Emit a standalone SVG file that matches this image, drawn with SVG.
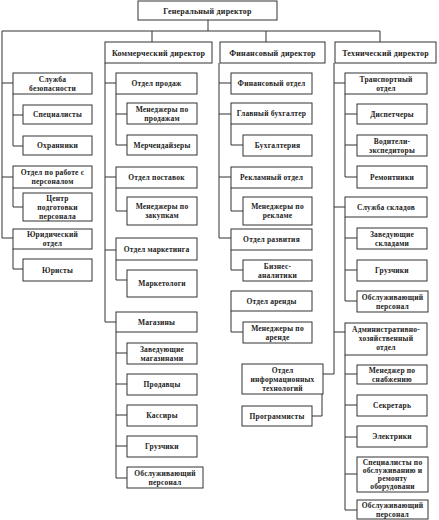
<svg xmlns="http://www.w3.org/2000/svg" width="439" height="520" viewBox="0 0 439 520">
<style>
rect{fill:#fff;stroke:#333;stroke-width:1}
text{font-family:"Liberation Serif","DejaVu Serif",serif;font-weight:bold;font-size:7.5px;fill:#222;text-anchor:middle;letter-spacing:0.2px}
.d{font-size:8px}
#conn path{fill:none;stroke:#333;stroke-width:1}
</style>
<rect x="0" y="0" width="439" height="520" style="fill:#fff;stroke:none"/>
<g id="conn">
<path d="M208 20V31M2 31H380M152 31V42M266 31V42M380 31V42"/>
<path d="M2 31V238M2 83H13M2 177H13M2 238H13M13 94V146M13 115H23M13 146H23M13 188V207H23M13 249V269H23"/>
<path d="M105 63V322M105 83H116M105 177H116M105 250H116M105 322H116M116 94V145M116 114H127M116 145H127M116 188V211H127M116 260V280H127M116 332V478M116 353H127M116 384H127M116 415H127M116 446H127M116 478H127"/>
<path d="M219 63V238M219 83H231M219 114H231M219 177H231M219 238H231M231 124V145H243M231 188V211H243M231 250V270H243M231 311V332H243"/>
<path d="M334 63V374H323M322 394V416H312M334 83H345M334 207H345M334 332H345M345 94V177M345 114H357M345 145H357M345 177H357M345 217V301M345 238H357M345 270H357M345 301H357M345 355V510M345 374H357M345 405H357M345 437H357M345 474H357M345 510H357"/>
</g>
<g id="gd"><rect x="138" y="1" width="139" height="19"/><text class="d" x="207.5" y="13.5">Генеральный директор</text></g>
<g id="cd"><rect x="105" y="42" width="107" height="21"/><text class="d" x="158.5" y="55.5">Коммерческий директор</text></g>
<g id="fd"><rect x="220" y="42" width="105" height="21"/><text class="d" x="272.5" y="55.5">Финансовый директор</text></g>
<g id="td"><rect x="335" y="42" width="101" height="21"/><text class="d" x="385.5" y="55.5">Технический директор</text></g>

<g id="sec"><rect x="13" y="73" width="79" height="21"/><text x="52.5" y="81.5">Служба</text><text x="52.5" y="90.5">безопасности</text></g>
<g id="spec"><rect x="23" y="105" width="69" height="19"/><text x="57.5" y="117">Специалисты</text></g>
<g id="guard"><rect x="23" y="136" width="69" height="19"/><text x="57.5" y="148">Охранники</text></g>
<g id="hr"><rect x="13" y="166" width="79" height="22"/><text x="52.5" y="175">Отдел по работе с</text><text x="52.5" y="184">персоналом</text></g>
<g id="trc"><rect x="23" y="193" width="69" height="28"/><text x="57.5" y="200.5">Центр</text><text x="57.5" y="209.5">подготовки</text><text x="57.5" y="218.5">персонала</text></g>
<g id="legal"><rect x="13" y="229" width="79" height="20"/><text x="52.5" y="237">Юридический</text><text x="52.5" y="246">отдел</text></g>
<g id="lawyers"><rect x="23" y="259" width="69" height="22"/><text x="57.5" y="272.5">Юристы</text></g>

<g id="sales"><rect x="116" y="73" width="81" height="21"/><text x="156.5" y="86">Отдел продаж</text></g>
<g id="salesmgr"><rect x="127" y="103" width="70" height="21"/><text x="162" y="111.5">Менеджеры по</text><text x="162" y="120.5">продажам</text></g>
<g id="merch"><rect x="127" y="135" width="70" height="20"/><text x="162" y="147.5">Мерчендайзеры</text></g>
<g id="supply"><rect x="116" y="167" width="81" height="21"/><text x="156.5" y="180">Отдел поставок</text></g>
<g id="purch"><rect x="127" y="197" width="70" height="28"/><text x="162" y="209">Менеджеры по</text><text x="162" y="218">закупкам</text></g>
<g id="mkt"><rect x="116" y="238" width="81" height="22"/><text x="156.5" y="251.5">Отдел маркетинга</text></g>
<g id="mktrs"><rect x="127" y="270" width="70" height="27"/><text x="162" y="286">Маркетологи</text></g>
<g id="shops"><rect x="116" y="312" width="81" height="20"/><text x="156.5" y="324.5">Магазины</text></g>
<g id="shopmgr"><rect x="127" y="343" width="70" height="21"/><text x="162" y="351.5">Заведующие</text><text x="162" y="360.5">магазинами</text></g>
<g id="sellers"><rect x="127" y="374" width="70" height="21"/><text x="162" y="387">Продавцы</text></g>
<g id="cashiers"><rect x="127" y="405" width="70" height="21"/><text x="162" y="418">Кассиры</text></g>
<g id="loaders1"><rect x="127" y="436" width="70" height="21"/><text x="162" y="449">Грузчики</text></g>
<g id="service1"><rect x="127" y="467" width="76" height="21"/><text x="165" y="475.5">Обслуживающий</text><text x="165" y="484.5">персонал</text></g>

<g id="findept"><rect x="231" y="73" width="81" height="21"/><text x="271.5" y="86">Финансовый отдел</text></g>
<g id="chiefacc"><rect x="231" y="103" width="81" height="21"/><text x="271.5" y="116">Главный бухгалтер</text></g>
<g id="acc"><rect x="243" y="135" width="69" height="21"/><text x="277.5" y="148">Бухгалтерия</text></g>
<g id="adv"><rect x="231" y="167" width="81" height="21"/><text x="271.5" y="180">Рекламный отдел</text></g>
<g id="advmgr"><rect x="243" y="197" width="69" height="28"/><text x="277.5" y="209">Менеджеры по</text><text x="277.5" y="218">рекламе</text></g>
<g id="dev"><rect x="231" y="229" width="81" height="21"/><text x="271.5" y="242">Отдел развития</text></g>
<g id="ba"><rect x="243" y="260" width="69" height="21"/><text x="277.5" y="268.5">Бизнес-</text><text x="277.5" y="277.5">аналитики</text></g>
<g id="rent"><rect x="231" y="291" width="81" height="20"/><text x="271.5" y="303.5">Отдел аренды</text></g>
<g id="rentmgr"><rect x="243" y="322" width="69" height="21"/><text x="277.5" y="330.5">Менеджеры по</text><text x="277.5" y="339.5">аренде</text></g>
<g id="it"><rect x="242" y="364" width="81" height="30"/><text x="282.5" y="372.5">Отдел</text><text x="282.5" y="381.5">информационных</text><text x="282.5" y="390.5">технологий</text></g>
<g id="prog"><rect x="242" y="406" width="70" height="20"/><text x="277" y="418.5">Программисты</text></g>

<g id="transport"><rect x="345" y="73" width="82" height="21"/><text x="386" y="81.5">Транспортный</text><text x="386" y="90.5">отдел</text></g>
<g id="disp"><rect x="357" y="104" width="70" height="20"/><text x="392" y="116.5">Диспетчеры</text></g>
<g id="drivers"><rect x="357" y="135" width="70" height="21"/><text x="392" y="143.5">Водители-</text><text x="392" y="152.5">экспедиторы</text></g>
<g id="repair"><rect x="357" y="166" width="70" height="22"/><text x="392" y="179.5">Ремонтники</text></g>
<g id="warehouse"><rect x="345" y="197" width="82" height="20"/><text x="386" y="209.5">Служба складов</text></g>
<g id="whmgr"><rect x="357" y="228" width="70" height="21"/><text x="392" y="236.5">Заведующие</text><text x="392" y="245.5">складами</text></g>
<g id="loaders2"><rect x="357" y="260" width="70" height="21"/><text x="392" y="273">Грузчики</text></g>
<g id="service2"><rect x="357" y="291" width="71" height="21"/><text x="392.5" y="299.5">Обслуживающий</text><text x="392.5" y="308.5">персонал</text></g>
<g id="admin"><rect x="345" y="323" width="82" height="32"/><text x="386" y="332">Административно-</text><text x="386" y="341">хозяйственный</text><text x="386" y="350">отдел</text></g>
<g id="supplymgr"><rect x="357" y="365" width="70" height="19"/><text x="392" y="372.5">Менеджер по</text><text x="392" y="381.5">снабжению</text></g>
<g id="secretary"><rect x="357" y="395" width="70" height="21"/><text x="392" y="408">Секретарь</text></g>
<g id="electric"><rect x="357" y="426" width="70" height="21"/><text x="392" y="439">Электрики</text></g>
<g id="techspec"><rect x="357" y="457" width="71" height="35"/><text x="392.5" y="464.5">Специалисты по</text><text x="392.5" y="472.5">обслуживанию и</text><text x="392.5" y="480.5">ремонту</text><text x="392.5" y="488.5">оборудовани</text></g>
<g id="service3"><rect x="357" y="500" width="71" height="19"/><text x="392.5" y="507.5">Обслуживающий</text><text x="392.5" y="516.5">персонал</text></g>
</svg>
